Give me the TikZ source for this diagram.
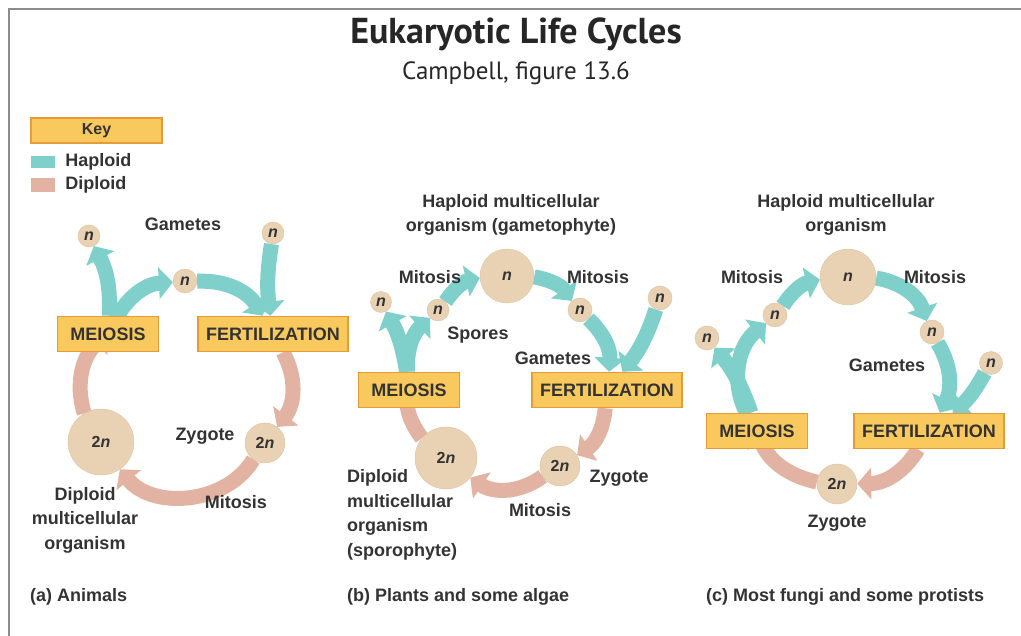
\documentclass[tikz,border=0pt]{standalone}
\usepackage{fontspec}
\setmainfont{Liberation Sans}
\newfontfamily\ttlfont{PT Sans}
\usetikzlibrary{positioning, arrows.meta, backgrounds}
\definecolor{hapcol}{HTML}{7FCFCB}
\definecolor{dipcol}{HTML}{E2B3A2}
\definecolor{celfill}{HTML}{E9D2B3}
\definecolor{celedge}{HTML}{DDC19E}
\definecolor{stgfill}{HTML}{F9C95E}
\definecolor{stgedge}{HTML}{E69B3A}
\definecolor{txtgray}{HTML}{333333}
\definecolor{framegray}{HTML}{8C8C8C}

\begin{document}
\begin{tikzpicture}[x=1pt, y=1pt,
        stg/.style={draw=stgedge, fill=stgfill, line width=1.5pt, minimum width=101pt, minimum height=35pt, inner xsep=8pt, font=\fontsize{18}{20}\selectfont\bfseries, text=txtgray},
        cel/.style={circle, draw=celedge, fill=celfill, inner sep=0, font=\fontsize{16}{18}\selectfont\bfseries, text=txtgray},
        lbl/.style={font=\fontsize{18}{24.5}\selectfont\bfseries, text=txtgray, align=center, inner sep=0},
        hap/.style={draw=hapcol, line width=15pt, -{Triangle[length=14pt, width=31pt]}},
        dip/.style={draw=dipcol, line width=15pt, -{Triangle[length=14pt, width=31pt]}}]
        \useasboundingbox (0,0) rectangle (1021,-636);
        \draw[framegray, line width=2.5pt] (9,-636) -- (9,-9) -- (1021,-9);
        \node[font=\ttlfont\bfseries\fontsize{36}{40}\selectfont, text=black!85] (ttl) at (516,-34) {Eukaryotic Life Cycles};
        \node[font=\ttlfont\fontsize{25}{28}\selectfont, text=black!85] (sub) at (516,-73) {Campbell, figure 13.6};
        % key
        \node[stg, minimum width=131pt, minimum height=25pt, inner ysep=0pt, font=\fontsize{16}{18}\selectfont\bfseries] (key) at (96.5,-130.5) {Key};
        \node[fill=hapcol, minimum width=24pt, minimum height=12pt, inner sep=0] (swH) at (43,-162) {};
        \node[fill=dipcol, minimum width=24pt, minimum height=14pt, inner sep=0] (swD) at (43,-185) {};
        \node[lbl, right=10pt of swH] (hapL) {Haploid};
        \node[lbl, right=10pt of swD] (dipL) {Diploid};
        % (a) animals
        \node[stg] (meioA) at (108,-334) {MEIOSIS};
        \node[stg] (fertA) at (273,-334) {FERTILIZATION};
        \node[cel, minimum size=24pt] (gamA)  at (185,-281) {\textit{n}};
        \node[cel, minimum size=22pt] (gamLA) at (89,-236)  {\textit{n}};
        \node[cel, minimum size=22pt] (gamRA) at (273,-233) {\textit{n}};
        \node[cel, minimum size=66pt] (orgA)  at (101,-442) {2\textit{n}};
        \node[cel, minimum size=40pt] (zygA)  at (265,-443) {2\textit{n}};
        \node[lbl] at (183,-224) {Gametes};
        \node[lbl] at (205,-436) {Zygote};
        \node[lbl] at (236,-502) {Mitosis};
        \node[lbl] at (85,-520)  {Diploid\\multicellular\\organism};
        \node[lbl, anchor=west] at (30,-597) {(a) Animals};
        % (b) plants
        \node[stg] (meioB) at (409,-390) {MEIOSIS};
        \node[stg] (fertB) at (607,-390) {FERTILIZATION};
        \node[cel, minimum size=54pt] (orgNB) at (507,-276) {\textit{n}};
        \node[cel, minimum size=22pt] (sporB)  at (438,-310) {\textit{n}};
        \node[cel, minimum size=21pt] (sporLB) at (381,-302) {\textit{n}};
        \node[cel, minimum size=24pt] (gamB)   at (580,-310) {\textit{n}};
        \node[cel, minimum size=24pt] (gamRB)  at (660,-298) {\textit{n}};
        \node[cel, minimum size=62pt] (orgB)   at (446,-458) {2\textit{n}};
        \node[cel, minimum size=40pt] (zygB)   at (560,-466) {2\textit{n}};
        \node[lbl] at (511,-215) {Haploid multicellular\\organism (gametophyte)};
        \node[lbl] at (430,-277) {Mitosis};
        \node[lbl] at (598,-277) {Mitosis};
        \node[lbl] at (478,-335) {Spores};
        \node[lbl] at (553,-358) {Gametes};
        \node[lbl] at (619,-478) {Zygote};
        \node[lbl] at (540,-510) {Mitosis};
        \node[lbl, align=left, anchor=west] at (347,-515) {Diploid\\multicellular\\organism\\(sporophyte)};
        \node[lbl, anchor=west] at (347,-597) {(b) Plants and some algae};
        % (c) fungi
        \node[stg] (meioC) at (757,-431) {MEIOSIS};
        \node[stg] (fertC) at (929,-431) {FERTILIZATION};
        \node[cel, minimum size=56pt] (orgNC) at (848,-277) {\textit{n}};
        \node[cel, minimum size=24pt] (sporC)  at (775,-315) {\textit{n}};
        \node[cel, minimum size=24pt] (sporLC) at (707,-338) {\textit{n}};
        \node[cel, minimum size=24pt] (gamC)   at (932,-332) {\textit{n}};
        \node[cel, minimum size=23pt] (gamRC)  at (991,-363) {\textit{n}};
        \node[cel, minimum size=40pt] (zygC)   at (837,-484) {2\textit{n}};
        \node[lbl] at (846,-215) {Haploid multicellular\\organism};
        \node[lbl] at (752,-277) {Mitosis};
        \node[lbl] at (935,-277) {Mitosis};
        \node[lbl] at (887,-365) {Gametes};
        \node[lbl] at (837,-523) {Zygote};
        \node[lbl, anchor=west] at (706,-597) {(c) Most fungi and some protists};
        % cycle arrows behind the nodes
        \begin{scope}[on background layer]
          \draw[hap] (meioA) to[bend left=28] (gamA);
          \draw[hap] (meioA) to[bend right=15] (gamLA);
          \draw[hap] (gamA) to[bend left=30] (fertA);
          \draw[hap] (gamRA) to[bend right=8] (fertA);
          \draw[dip] (fertA) to[bend left=33] (zygA);
          \draw[dip] (zygA) to[bend left=55] (orgA);
          \draw[dip] (orgA) to[bend left=34] (meioA.center);
          \draw[hap] (meioB) to[bend left=25] (sporB);
          \draw[hap] (meioB) to[bend right=10] (sporLB);
          \draw[hap] (sporB) to[bend left=22] (orgNB);
          \draw[hap] (orgNB) to[bend left=23] (gamB);
          \draw[hap] (gamB) to[bend left=25] (fertB);
          \draw[hap] (gamRB) to[bend left=10] (fertB);
          \draw[dip] (fertB) to[bend left=26] (zygB);
          \draw[dip] (zygB) to[bend left=35] (orgB);
          \draw[dip] (orgB) to[bend left=22] (meioB.center);
          \draw[hap] (meioC) to[bend left=39] (sporC);
          \draw[hap] (meioC) to[bend right=10] (sporLC);
          \draw[hap] (sporC) to[bend left=22] (orgNC);
          \draw[hap] (orgNC) to[bend left=31] (gamC);
          \draw[hap] (gamC) to[bend left=29] (fertC);
          \draw[hap] (gamRC) to[bend left=10] (fertC);
          \draw[dip] (fertC) to[bend left=29] (zygC);
          \draw[dip] (zygC) to[bend left=28] (meioC.center);
        \end{scope}
\end{tikzpicture}
\end{document}
